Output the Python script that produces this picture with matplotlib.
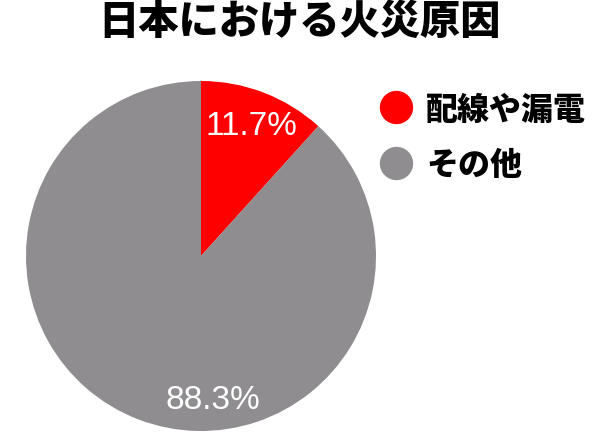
import matplotlib
matplotlib.use("Agg")
import matplotlib.pyplot as plt
from matplotlib.lines import Line2D

plt.rcParams["font.family"] = ["Noto Sans CJK JP", "DejaVu Sans"]

# data
title = "日本における火災原因"
labels = ["配線や漏電", "その他"]
shares = [11.7, 88.3]
colors = ["#FF0000", "#8F8D90"]

fig = plt.figure(figsize=(6.0, 4.39), dpi=100)
fig.patch.set_facecolor("white")

# pie area: about 350 px wide, centred near (201, 257)
ax = fig.add_axes([26 / 600, 7 / 439, 350 / 600, 350 / 439])
wedges, texts, autotexts = ax.pie(
    shares,
    colors=colors,
    startangle=90,
    counterclock=False,
    autopct=lambda p: f"{p:.1f}%",
    pctdistance=0.8,
    wedgeprops=dict(linewidth=0),
    radius=1.0,
)
ax.set_xlim(-1, 1)
ax.set_ylim(-1, 1)
ax.set_aspect("equal")

for t in autotexts:
    t.set_color("white")
    t.set_fontsize(24)
    t.set_family("Liberation Sans")
# the big slice label sits near the bottom of the pie
autotexts[1].set_position((0.07, -0.82))

fig.text(0.5, 0.95, title, ha="center", va="center",
         fontsize=29, fontweight="black", color="black")

handles = [Line2D([], [], marker="o", linestyle="none", markersize=24,
                  markerfacecolor=c, markeredgecolor="none") for c in colors]
leg = fig.legend(handles, labels, loc="upper left",
                 bbox_to_anchor=(364 / 600, 1 - 77 / 439),
                 frameon=False, handletextpad=0.45, labelspacing=0.7,
                 handlelength=1.0, borderpad=0,
                 prop=dict(size=23, weight="black"))

fig.savefig("out.png", dpi=100, facecolor="white")
plt.close(fig)
